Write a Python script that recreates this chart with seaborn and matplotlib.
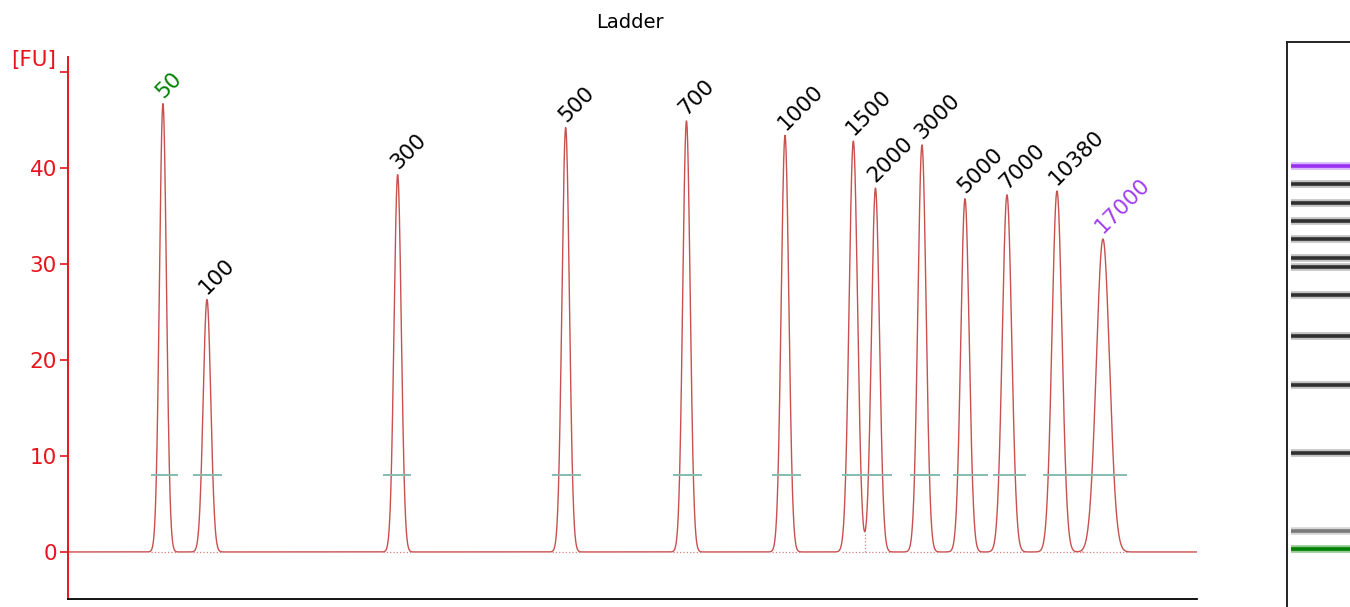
import numpy as np
import pandas as pd
import matplotlib
matplotlib.use("Agg")
import matplotlib.pyplot as plt
import seaborn as sns

# ladder peaks (time in s, height in FU)
sizes = [50, 100, 300, 500, 700, 1000, 1500, 2000, 3000, 5000, 7000, 10380, 17000]
peak_time = [28.41, 32.31, 49.20, 64.08, 74.78, 83.51, 89.56, 91.52, 95.64, 99.45, 103.17, 107.60, 111.67]
peak_height = [46.7, 26.3, 39.3, 44.2, 44.9, 43.4, 42.8, 37.9, 42.4, 36.8, 37.2, 37.6, 32.6]
peak_width = [0.31, 0.337, 0.319, 0.328, 0.328, 0.337, 0.372, 0.354, 0.363, 0.372, 0.416, 0.443, 0.585]

# integration windows (start, end) of the peak table
win_start = [27.35, 31.07, 47.90, 62.87, 73.59, 82.36, 88.56, 94.58, 98.39, 101.93, 106.36]
win_end = [29.74, 33.64, 50.38, 65.44, 76.16, 84.93, 92.99, 97.24, 101.49, 104.85, 113.80]
win_level = 8.0
split_time = [90.58, 109.81]

# gel lane band positions (px from top of figure)
band_pos = [549, 531, 453, 385, 336, 295, 267, 258, 239, 221, 203, 184, 166]

red = "#e8141c"
trace_col = "#c8504f"

sns.set_style("white")
plt.rcParams["font.family"] = ["DejaVu Sans"]

t = np.arange(20, 120.0001, 0.01)
signal = np.zeros_like(t)
for c, h, w in zip(peak_time, peak_height, peak_width):
    signal += h * np.exp(-0.5 * ((t - c) / w) ** 2)
df = pd.DataFrame({"time": t, "fu": signal})

fig = plt.figure(figsize=(13.5, 6.07), dpi=100)
ax = fig.add_axes([68 / 1350, 1 - 599 / 607, (1197 - 68) / 1350, (599 - 57) / 607])

sns.lineplot(data=df, x="time", y="fu", ax=ax, color=trace_col, linewidth=1.0)

# dotted baselines and splits
ax.hlines([0] * len(win_start), win_start, win_end, colors="#d98080", linestyles=":", linewidth=0.9)
for s in split_time:
    v = np.interp(s, t, signal)
    ax.vlines(s, 0, v, colors="#d98080", linestyles=":", linewidth=0.9)
ax.hlines([win_level] * len(win_start), win_start, win_end, colors="#86bcae", linewidth=1.4)

for size, c, h in zip(sizes, peak_time, peak_height):
    col = "black"
    if size == sizes[0]:
        col = "#008000"
    elif size == sizes[-1]:
        col = "#a03cf0"
    ax.annotate(str(size), xy=(c, h), xytext=(3, 2), textcoords="offset pixels",
                rotation=45, rotation_mode="anchor", ha="left", va="bottom",
                fontsize=15.5, color=col)

ax.set_xlim(20, 120)
ax.set_ylim(-4.9, 51.56)
ax.set_xticks([])
ax.set_yticks([0, 10, 20, 30, 40, 50])
ax.set_yticklabels(["0", "10", "20", "30", "40", ""])
ax.set_xlabel("")
ax.set_ylabel("")
ax.tick_params(axis="y", colors=red, labelcolor=red, labelsize=15.5, length=6, width=1.2, pad=2, left=True, direction="out")
for sp in ["top", "right"]:
    ax.spines[sp].set_visible(False)
ax.spines["left"].set_color(red)
ax.spines["left"].set_linewidth(1.4)
ax.spines["bottom"].set_color("black")
ax.spines["bottom"].set_linewidth(1.3)

fig.text(56 / 1350, 1 - 60 / 607, "[FU]", color=red, fontsize=15.5, ha="right", va="center")
fig.text(630 / 1350, 1 - 22 / 607, "Ladder", color="black", fontsize=14, ha="center", va="center")

# gel lane
gax = fig.add_axes([1287 / 1350, -0.05, 0.1, 1 - 42 / 607 + 0.05])
gax.set_xlim(0, 1)
gax.set_ylim(607 + 0.05 * 607, 42)
gax.set_xticks([])
gax.set_yticks([])
for sp in gax.spines.values():
    sp.set_color("#222222")
    sp.set_linewidth(1.4)
for i, (y, h) in enumerate(zip(band_pos, peak_height)):
    if i == 0:
        core, halo = "#008000", "#66b366"
    elif i == len(band_pos) - 1:
        core, halo = "#9b30f5", "#c89af8"
    elif h < 30:
        core, halo = "#7a7a7a", "#c4c4c4"
    else:
        core, halo = "#303030", "#a8a8a8"
    gax.hlines(y, 0.03, 1.0, colors=halo, linewidth=5.5, alpha=0.7)
    gax.hlines(y, 0.03, 1.0, colors=core, linewidth=2.6)

fig.savefig("out.png", dpi=100)
